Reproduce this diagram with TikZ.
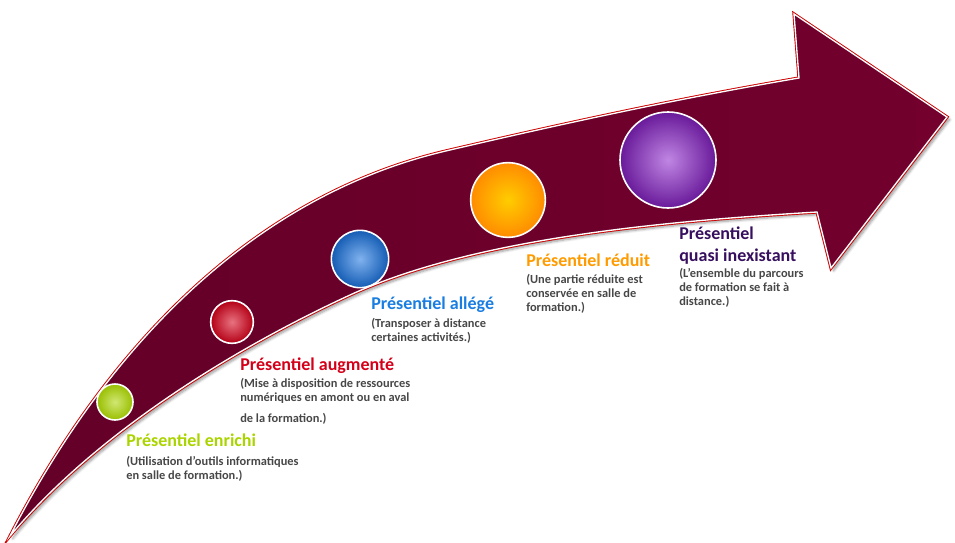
\documentclass[tikz,border=0pt]{standalone}
\usepackage{fontspec}
\setmainfont{Carlito}
\usetikzlibrary{shadows.blur}
\definecolor{bandL}{RGB}{100,0,40}
\definecolor{bandM}{RGB}{232,25,85}
\definecolor{bandR}{RGB}{115,0,45}
\definecolor{cgreen}{RGB}{170,212,0}
\definecolor{cred}{RGB}{212,0,25}
\definecolor{cblue}{RGB}{25,115,225}
\definecolor{corange}{RGB}{255,155,0}
\definecolor{cpurple}{RGB}{140,35,205}
\definecolor{tpurple}{RGB}{55,15,95}
\definecolor{tblue}{RGB}{25,125,225}
\begin{document}
\begin{tikzpicture}[x=0.75pt,y=-0.75pt,
  ttl/.style={anchor=north west,inner sep=0pt,font=\bfseries\fontsize{13.5}{14}\selectfont,align=left},
  dsc/.style={anchor=north west,inner sep=0pt,font=\bfseries\fontsize{9.3}{10.6}\selectfont,text=black!72,align=left},
  ballnode/.style={circle,draw=white,line width=1.2pt,inner sep=0pt,shading=radial}]
\useasboundingbox (0,0) rectangle (955,542);
\def\band{(10,536) .. controls (90,380) and (230,200) .. (450,150)
  .. controls (600,115) and (700,95) .. (799,78)
  -- (794,14) -- (947,117) -- (831,268) -- (817,212)
  .. controls (650,222) and (470,240) .. (350,295)
  .. controls (220,355) and (90,440) .. (10,536) -- cycle}
\path[blur shadow={shadow blur steps=6,shadow xshift=2pt,shadow yshift=-2pt}, draw=red!80!black, line width=2.4pt, fill=white] \band;
\shade[left color=bandL, middle color=bandM, right color=bandR, draw=white, line width=1pt] \band;
\node[ballnode,minimum size=27pt,inner color=cgreen!55!white,outer color=cgreen!90!black] (b1) at (115,402) {};
\node[ballnode,minimum size=32pt,inner color=cred!55!white,outer color=cred!85!black] (b2) at (232,322) {};
\node[ballnode,minimum size=43pt,inner color=cblue!55!white,outer color=cblue!80!black] (b3) at (360,259) {};
\node[ballnode,minimum size=56pt,inner color=corange!50!yellow,outer color=corange!90!red] (b4) at (508,200) {};
\node[ballnode,minimum size=72pt,inner color=cpurple!55!white,outer color=cpurple!75!black] (b5) at (668,160) {};
\node[ttl,text=cgreen] (t1) at (126,434) {Présentiel enrichi};
\node[dsc] (d1) at (126,456) {(Utilisation d’outils informatiques\\en salle de formation.)};
\node[ttl,text=cred] (t2) at (240,358) {Présentiel augmenté};
\node[dsc] (d2) at (240,378) {(Mise à disposition de ressources\\numériques en amont ou en aval\\[5pt]de la formation.)};
\node[ttl,text=tblue] (t3) at (371,297) {Présentiel allégé};
\node[dsc] (d3) at (371,318) {(Transposer à distance\\certaines activités.)};
\node[ttl,text=corange] (t4) at (526,254) {Présentiel réduit};
\node[dsc] (d4) at (526,274) {(Une partie réduite est\\conservée en salle de\\formation.)};
\node[ttl,text=tpurple,font=\bfseries\fontsize{13.5}{16}\selectfont] (t5) at (679,227) {Présentiel\\quasi inexistant};
\node[dsc] (d5) at (679,268) {(L'ensemble du parcours\\de formation se fait à\\distance.)};
\end{tikzpicture}
\end{document}
